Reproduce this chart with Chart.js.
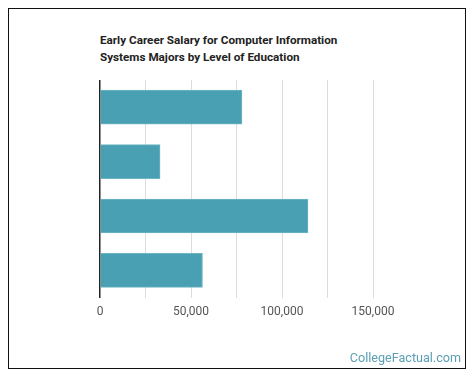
<!DOCTYPE html>
<html lang="en">
<head>
  <meta charset="UTF-8" />
  <title>Early Career Salary - Computer Information Systems</title>
  <script src="https://cdn.jsdelivr.net/npm/chart.js"></script>
  <style>
    body {
      margin: 0;
      background: #fff;
      font-family: Roboto, 'Noto Sans', sans-serif;
    }
    .wrap {
      position: relative;
      width: 476px;
      height: 381px;
    }
    .frame {
      position: absolute;
      left: 8px;
      top: 8px;
      width: 456px;
      height: 359px;
      border: 1.5px solid #111;
    }
    .title {
      position: absolute;
      left: 100px;
      top: 32px;
      font-size: 11.7px;
      font-weight: 700;
      line-height: 16.5px;
      color: #222;
    }
    .brand {
      position: absolute;
      right: 15px;
      top: 350px;
      font-size: 12.6px;
      color: #5a9fb4;
    }
    canvas {
      position: absolute;
      left: 0;
      top: 0;
    }
  </style>
</head>
<body>
<div class="wrap">
  <div class="frame"></div>
  <div class="title">Early Career Salary for Computer Information<br>Systems Majors by Level of Education</div>
  <canvas id="chart" width="476" height="381"></canvas>
  <div class="brand">CollegeFactual.com</div>
</div>

<script>
  const levels = ["Bachelor's Degree", "Associate Degree", "Master's Degree", "Certificate"];
  const salaries = [78000, 33000, 114300, 56300];
  const xTicks = [0, 50000, 100000, 150000];

  new Chart(document.getElementById('chart'), {
    type: 'bar',
    data: {
      labels: levels,
      datasets: [{
        label: 'Early Career Salary',
        data: salaries,
        backgroundColor: '#4aa0b3',
        borderColor: '#6fb6c5',
        borderWidth: 1,
        barThickness: 34
      }]
    },
    options: {
      indexAxis: 'y',
      responsive: false,
      animation: false,
      layout: { padding: { left: 100, right: 103, top: 80, bottom: 55 } },
      plugins: {
        legend: { display: false },
        title: { display: false },
        tooltip: { enabled: false }
      },
      scales: {
        y: { display: false },
        x: {
          min: 0,
          max: 150000,
          border: { display: false },
          grid: {
            drawTicks: false,
            color: ctx => ctx.tick && ctx.tick.value === 0 ? '#222' : '#dcdcdc',
            lineWidth: ctx => ctx.tick && ctx.tick.value === 0 ? 1.5 : 1
          },
          ticks: {
            stepSize: 25000,
            padding: 7,
            maxRotation: 0,
            minRotation: 0,
            autoSkip: false,
            color: '#555',
            font: { family: 'Roboto', size: 12 },
            callback: v => xTicks.includes(v) ? v.toLocaleString('en-US') : ''
          }
        }
      }
    }
  });
</script>
</body>
</html>
